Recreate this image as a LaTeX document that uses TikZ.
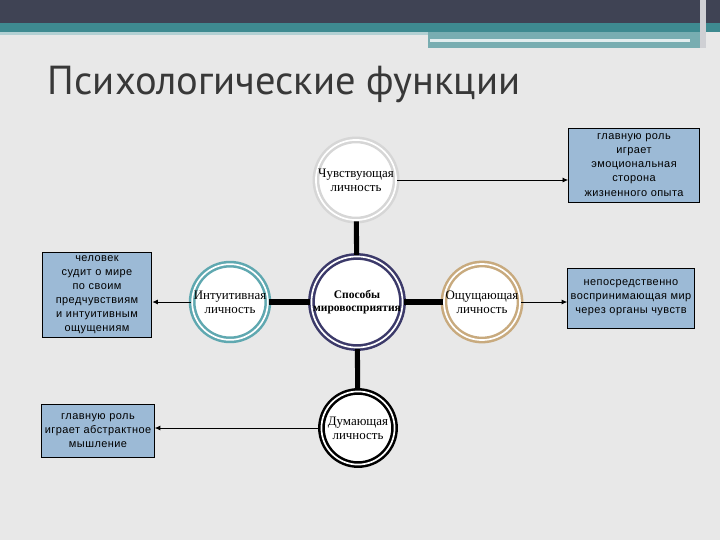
\documentclass[tikz,border=0pt]{standalone}
\usepackage{fontspec}
\setmainfont{Liberation Serif}
\newfontfamily\boxfont[LetterSpace=4]{Liberation Sans}
\newfontfamily\titlefont{PT Sans}
\usetikzlibrary{arrows.meta}

\definecolor{bgray}{HTML}{E8E8E8}
\definecolor{topbar}{HTML}{3F4354}
\definecolor{tealbar}{HTML}{3E8A90}
\definecolor{boxblue}{HTML}{9CBAD6}
\definecolor{ringteal}{HTML}{5FA8B0}
\definecolor{ringpurple}{HTML}{3C3A6A}
\definecolor{ringtan}{HTML}{C8AA7E}
\definecolor{ringgray}{HTML}{D6D6D6}

\begin{document}
\begin{tikzpicture}[
            x = 0.025cm, y = -0.025cm,
            ring/.style={circle, fill=white, line width=1.8pt, double=white, double distance=1.2pt,
                         align=center, font=\fontsize{9.2}{10.2}\selectfont, inner sep=0pt},
            note/.style={draw=black, fill=boxblue, line width=.6pt, align=center,
                         font=\boxfont\fontsize{7.8}{10}\selectfont, inner sep=1pt},
            line/.style={line width = 3.6pt},
            link/.style={line width = .6pt, -{Latex[length=4pt,width=3.5pt]}},
            ]

        % background and top band
        \fill[bgray] (0, 0) rectangle (720, 540);
        \fill[topbar] (0, 0) rectangle (720, 23);
        \fill[tealbar] (0, 23) rectangle (720, 32);
        \fill[tealbar!70!white] (428, 32) rectangle (705, 48);
        \fill[white!85!tealbar] (430, 39) rectangle (690, 42);
        \fill[white!75!topbar] (700, 0) rectangle (706, 48);
        \fill[white!60!tealbar] (0, 32) rectangle (428, 35);

        \node[anchor=base west, text=black!78, font=\titlefont\fontsize{28.8}{32}\selectfont]
            (title) at (43, 94) {Психологические функции};

        % circles
        \node[ring, draw=ringgray, minimum size=57pt] (feel) at (356, 180) {Чувствующая\\личность};
        \node[ring, draw=ringteal, minimum size=52pt] (intu) at (230, 302) {Интуитивная\\личность};
        \node[ring, draw=ringpurple, minimum size=57pt, font=\bfseries\fontsize{8.2}{9.6}\selectfont]
            (ways) at (357, 302) {Способы\\мировосприятия};
        \node[ring, draw=ringtan, minimum size=52pt] (sens) at (482, 302) {Ощущающая\\личность};
        \node[ring, draw=black, minimum size=52pt] (think) at (358, 428) {Думающая\\личность};

        % notes
        \node[note, text width=91pt, minimum height=52.6pt] (nfeel) at (634, 165)
            {главную роль\\играет\\эмоциональная\\сторона\\жизненного опыта};
        \node[note, text width=88pt, minimum height=42.7pt] (nsens) at (631, 298)
            {непосредственно\\воспринимающая мир\\через органы чувств};
        \node[note, text width=76pt, minimum height=60pt] (nintu) at (97, 295)
            {человек\\судит о мире\\по своим\\предчувствиям\\и интуитивным\\ощущениям};
        \node[note, text width=78pt, minimum height=37.7pt] (nthink) at (98, 431)
            {главную роль\\играет абстрактное\\мышление};

        \draw[line] (intu) -- (ways) -- (sens);
        \draw[line] (feel) -- (ways) -- (think);

        \draw[link] (feel.east) -- (feel.east -| nfeel.west);
        \draw[link] (sens.east) -- (sens.east -| nsens.west);
        \draw[link] (intu.west) -- (intu.west -| nintu.east);
        \draw[link] (think.west) -- (think.west -| nthink.east);
    \end{tikzpicture}
\end{document}
